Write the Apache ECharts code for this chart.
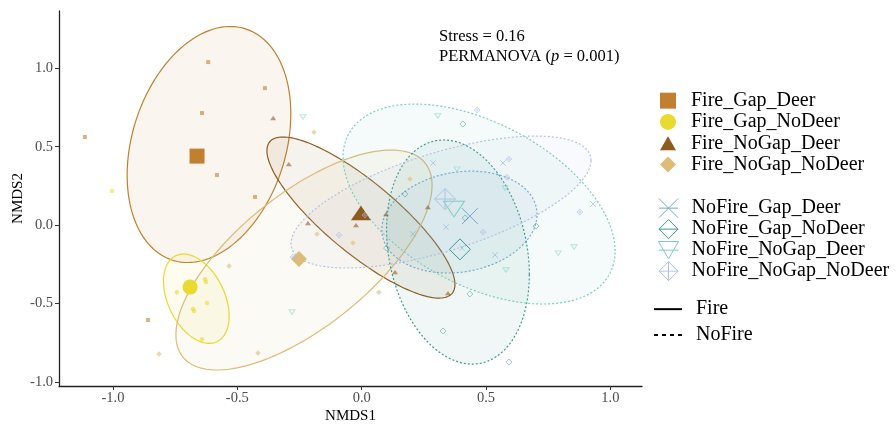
<!DOCTYPE html>
<html>
<head>
<meta charset="utf-8">
<script src="https://cdn.jsdelivr.net/npm/echarts@6.0.0/dist/echarts.min.js"></script>
<style>html,body{margin:0;padding:0;background:#fff}#main{width:896px;height:425px}</style>
</head>
<body>
<div id="main"></div>
<script>
// ---------------- data ----------------
const groups = ['Fire_Gap_Deer','Fire_Gap_NoDeer','Fire_NoGap_Deer','Fire_NoGap_NoDeer',
                'NoFire_Gap_Deer','NoFire_Gap_NoDeer','NoFire_NoGap_Deer','NoFire_NoGap_NoDeer'];

// sample scores [NMDS1, NMDS2]
const fireGapDeer = [[-0.617,1.040],[-0.389,0.874],[-0.642,0.715],[-1.113,0.562],[-0.582,0.319],[-0.429,0.179],[-0.859,-0.606]];
const fireGapNoDeer = [[-1.004,0.217],[-0.630,-0.345],[-0.626,-0.364],[-0.743,-0.428],[-0.622,-0.498],[-0.678,-0.536],[-0.674,-0.549],[-0.642,-0.728]];
const fireNoGapDeer = [[-0.356,0.683],[-0.293,0.389],[-0.216,0.013],[-0.023,0.000],[0.098,0.070],[0.266,0.115],[0.134,-0.300],[0.347,-0.434]];
const fireNoGapNoDeer = [[-0.192,0.593],[0.194,0.294],[-0.180,-0.057],[-0.035,-0.115],[0.069,-0.428],[-0.417,-0.817],[-0.815,-0.823],[-0.533,-0.262]];
const noFireGapDeer = [[0.287,0.396],[0.568,0.396],[0.206,-0.057],[0.339,-0.013],[0.403,-0.147],[0.536,-0.191],[0.930,0.134]];
const noFireGapNoDeer = [[0.407,0.645],[0.174,0.198],[0.416,0.045],[0.701,-0.006],[0.435,-0.440],[0.327,-0.676],[0.592,-0.874],[0.100,-0.147]];
const noFireNoGapDeer = [[-0.236,0.689],[0.306,0.696],[0.383,0.357],[0.577,0.236],[0.580,-0.287],[0.790,-0.179],[0.854,-0.140],[-0.280,-0.555]];
const noFireNoGapNoDeer = [[0.464,0.734],[0.592,0.421],[0.584,0.306],[0.013,0.064],[-0.091,-0.064],[0.488,-0.045],[0.877,0.083],[-0.276,-0.204]];

// group centroids
const centroidX = [-0.662,-0.690,-0.003,-0.252,0.435,0.395,0.371,0.335];
const centroidY = [0.440,-0.396,0.077,-0.217,0.057,-0.155,0.102,0.166];

// confidence ellipses: centre, x spread, y spread, correlation
const ellipseCX = [-0.614,-0.665,-0.003,-0.232,0.393,0.387,0.472,0.319];
const ellipseCY = [0.514,-0.470,0.048,-0.223,0.019,-0.172,0.134,0.147];
const ellipseSX = [0.329,0.132,0.378,0.515,0.312,0.287,0.547,0.603];
const ellipseSY = [0.753,0.285,0.514,0.702,0.325,0.715,0.638,0.421];
const ellipseR  = [0.26,-0.39,-0.83,0.68,0.15,-0.20,-0.47,0.63];

const xTicks = [-1.0,-0.5,0.0,0.5,1.0];
const yTicks = [-1.0,-0.5,0.0,0.5,1.0];

// ---------------- styles ----------------
const points = [fireGapDeer, fireGapNoDeer, fireNoGapDeer, fireNoGapNoDeer,
                noFireGapDeer, noFireGapNoDeer, noFireNoGapDeer, noFireNoGapNoDeer];
const colors = ['#C0802F','#E8DA2E','#8E5B1F','#DCBC78','#76A9D2','#3A9A8F','#7DCDBE','#B0C2E3'];
const TRI = 'path://M5,0L10,8.66L0,8.66Z';
const TRIDOWN = 'path://M0,0L10,0L5,8.66Z';
const XSYM = 'path://M0,0L10,10M10,0L0,10';
const DPLUS = 'path://M5,0L10,5L5,10L0,5Z M0,5L10,5 M5,0L5,10';
const symbols = ['rect','circle',TRI,'diamond',XSYM,'diamond',TRIDOWN,DPLUS];
const legendIcons = ['rect','circle',TRI,'diamond',
  'path://M0,0L10,10M10,0L0,10M0,5L10,5',
  'path://M5,0L10,5L5,10L0,5Z M0,5L10,5',
  'path://M0,0L10,0L5,8.66Z M0,4.33L10,4.33',
  DPLUS];
const filled = [true,true,true,true,false,false,false,false];
const bigSize = [15,15,[20,17],16,16,21,[21,18],21];
const smallSize = [4,4.5,[6,5],5.5,5.5,6,[6,5.2],6];
const SERIF = '"Liberation Serif", "Times New Roman", serif';

function rgba(hex, a){
  const n = parseInt(hex.slice(1),16);
  return 'rgba(' + (n>>16&255) + ',' + (n>>8&255) + ',' + (n&255) + ',' + a + ')';
}

function ellipseSeries(name, idxs, dotted){
  return {
    type:'custom', name: name, z: 1, silent: true,
    dimensions:['cx','cy','sx','sy','r','g'],
    encode:{x:0,y:1},
    data: idxs.map(i => [ellipseCX[i], ellipseCY[i], ellipseSX[i], ellipseSY[i], ellipseR[i], i]),
    renderItem: function(params, api){
      const cx = api.value(0), cy = api.value(1), sx = api.value(2), sy = api.value(3), r = api.value(4), g = api.value(5);
      const s = Math.sqrt(1 - r*r);
      const pts = [];
      const N = 160;
      for (let k = 0; k < N; k++){
        const t = 2*Math.PI*k/N;
        pts.push(api.coord([cx + sx*Math.cos(t), cy + sy*(r*Math.cos(t) + s*Math.sin(t))]));
      }
      return {
        type:'polygon', shape:{points: pts},
        style:{fill: rgba(colors[g], 0.08), stroke: colors[g], lineWidth: 1.2,
               lineDash: dotted ? [2,2] : null}
      };
    }
  };
}

const series = [ellipseSeries('Fire',[0,1,2,3],false), ellipseSeries('NoFire',[4,5,6,7],true)];

groups.forEach((g, i) => {
  const data = points[i].map(p => ({value: p, symbolSize: smallSize[i], itemStyle:{opacity: filled[i] ? 0.6 : 0.5}}));
  data.push({value:[centroidX[i], centroidY[i]], symbolSize: bigSize[i], z: 5});
  series.push({
    type:'scatter', name: g, z: 3, symbol: symbols[i], symbolKeepAspect: true,
    itemStyle: filled[i] ? {color: colors[i], opacity: 1}
                         : {color:'rgba(255,255,255,0)', borderColor: colors[i], borderWidth: 1, opacity: 1},
    emphasis:{disabled:true},
    data: data
  });
});

const legendText = {fontFamily: SERIF, fontSize: 20, color:'#000', lineHeight: 21.3};

const option = {
  animation: false,
  backgroundColor:'#fff',
  grid:{left:59, right:254, top:11, bottom:39, containLabel:false, outerBoundsMode:'none'},
  xAxis:{
    type:'value', min:-1.217, max:1.127,
    name:'NMDS1', nameLocation:'middle', nameGap:23, nameMoveOverlap:false,
    nameTextStyle:{fontFamily:SERIF, fontSize:15, color:'#000'},
    axisLine:{show:true, onZero:false, lineStyle:{color:'#222', width:1.3}},
    axisTick:{show:true, customValues:xTicks, length:4, lineStyle:{color:'#333', width:1}},
    axisLabel:{customValues:xTicks, formatter: v => v.toFixed(1), color:'#4d4d4d', fontFamily:SERIF, fontSize:14.5, margin:5},
    splitLine:{show:false}
  },
  yAxis:{
    type:'value', min:-1.027, max:1.366,
    name:'NMDS2', nameLocation:'middle', nameGap:33, nameRotate:90, nameMoveOverlap:false,
    nameTextStyle:{fontFamily:SERIF, fontSize:15, color:'#000'},
    axisLine:{show:true, onZero:false, lineStyle:{color:'#222', width:1.3}},
    axisTick:{show:true, customValues:yTicks, length:4, lineStyle:{color:'#333', width:1}},
    axisLabel:{customValues:yTicks, formatter: v => v.toFixed(1), color:'#4d4d4d', fontFamily:SERIF, fontSize:14.5, margin:6},
    splitLine:{show:false}
  },
  legend:[
    {data: groups.slice(0,4).map((g,k)=>({name:g, icon:legendIcons[k]})), orient:'vertical', left:655, top:85,
     itemWidth:16, itemHeight:16, itemGap:0, selectedMode:false,
     textStyle:Object.assign({padding:[0,0,0,10]}, legendText)},
    {data: groups.slice(4).map((g,k)=>({name:g, icon:legendIcons[k+4]})), orient:'vertical', left:653, top:192.5,
     itemWidth:20, itemHeight:19, itemGap:-0.3, selectedMode:false,
     itemStyle:{borderWidth:1},
     textStyle:Object.assign({padding:[0,0,0,8]}, legendText)},
    {data:[{name:'Fire', icon:'path://M0,0H28V2H0Z'},
           {name:'NoFire', icon:'path://M0,0H4V2H0Z M8,0H12V2H8Z M16,0H20V2H16Z M24,0H28V2H24Z'}],
     orient:'vertical', left:649, top:293.5, itemWidth:28, itemHeight:14, itemGap:4.5, selectedMode:false,
     itemStyle:{color:'#000', borderWidth:0},
     textStyle:Object.assign({padding:[0,0,0,9]}, legendText)}
  ],
  graphic:[
    {type:'text', left:439, top:28, silent:true,
     style:{text:'Stress = 0.16', fontFamily:SERIF, fontSize:16.5, fill:'#000'}},
    {type:'text', left:439, top:48, silent:true,
     style:{text:'PERMANOVA ({i|p} = 0.001)', fontFamily:SERIF, fontSize:16.5, fill:'#000',
            rich:{i:{fontStyle:'italic', fontFamily:SERIF, fontSize:16.5, fill:'#000'}}}}
  ],
  series: series
};

const chart = echarts.init(document.getElementById('main'), null, {renderer:'canvas'});
chart.setOption(option);
</script>
</body>
</html>
